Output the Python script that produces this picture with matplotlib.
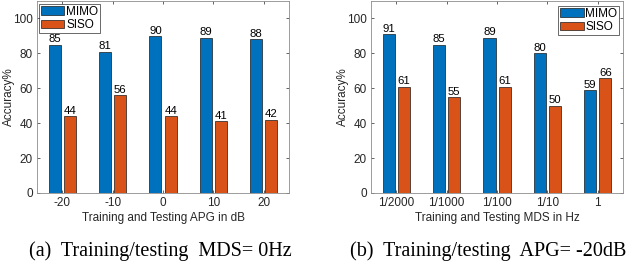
import numpy as np
import matplotlib
matplotlib.use('Agg')
import matplotlib.pyplot as plt

# data
apg_labels = ['-20', '-10', '0', '10', '20']
mimo_apg = [85, 81, 90, 89, 88]
siso_apg = [44, 56, 44, 41, 42]

mds_labels = ['1/2000', '1/1000', '1/100', '1/10', '1']
mimo_mds = [91, 85, 89, 80, 59]
siso_mds = [61, 55, 61, 50, 66]

plt.rcParams['font.family'] = ['Liberation Sans', 'DejaVu Sans']

blue = '#0072BD'
orange = '#D95319'
gray = '#262626'
fs = 8.5

fig = plt.figure(figsize=(6.4, 2.65), dpi=100)
ax1 = fig.add_axes([0.0578, 0.2717, 0.3938, 0.7245])
ax2 = fig.add_axes([0.5797, 0.2717, 0.3938, 0.7245])


def draw(ax, labels, mimo, siso, xlabel, legend_loc, legend_anchor):
    x = np.arange(1, len(labels) + 1)
    w = 0.24
    b1 = ax.bar(x - 0.15, mimo, w, color=blue, edgecolor='#1a1a1a', linewidth=0.5, label='MIMO')
    b2 = ax.bar(x + 0.15, siso, w, color=orange, edgecolor='#1a1a1a', linewidth=0.5, label='SISO')
    for bars, vals in [(b1, mimo), (b2, siso)]:
        for bar, v in zip(bars, vals):
            ax.text(bar.get_x() + bar.get_width() / 2, v + 1.3, str(v),
                    ha='center', va='baseline', fontsize=8.2, color='black')
    ax.set_xlim(0.5, len(labels) + 0.5)
    ax.set_ylim(0, 110)
    ax.set_yticks([0, 20, 40, 60, 80, 100])
    ax.set_xticks(x)
    ax.set_xticklabels(labels)
    ax.tick_params(labelsize=fs, colors=gray, length=2.5, width=0.5,
                   direction='in', top=True, right=True, pad=3)
    for s in ax.spines.values():
        s.set_color('#8c8c8c')
        s.set_linewidth(0.6)
    ax.set_xlabel(xlabel, fontsize=fs, color=gray, labelpad=2)
    ax.set_ylabel('Accuracy%', fontsize=fs, color=gray)
    ax.yaxis.set_label_coords(-0.088, 0.5)
    leg = ax.legend(loc=legend_loc, bbox_to_anchor=legend_anchor, fontsize=fs,
                    frameon=True, fancybox=False, edgecolor='#262626',
                    handlelength=2.0, handleheight=0.7, handletextpad=0.15,
                    borderpad=0.15, labelspacing=0.12, borderaxespad=0.0)
    leg.get_frame().set_linewidth(0.6)


draw(ax1, apg_labels, mimo_apg, siso_apg, 'Training and Testing APG in dB',
     'upper left', (0.008, 0.985))
draw(ax2, mds_labels, mimo_mds, siso_mds, 'Training and Testing MDS in Hz',
     'upper right', (0.985, 0.975))

fig.text(0.25, 0.035, '(a)  Training/testing  MDS= 0Hz', ha='center',
         family='Liberation Serif', fontsize=14.5)
fig.text(0.7625, 0.035, '(b)  Training/testing  APG= -20dB', ha='center',
         family='Liberation Serif', fontsize=14.5)

fig.savefig('out.png', dpi=100)
